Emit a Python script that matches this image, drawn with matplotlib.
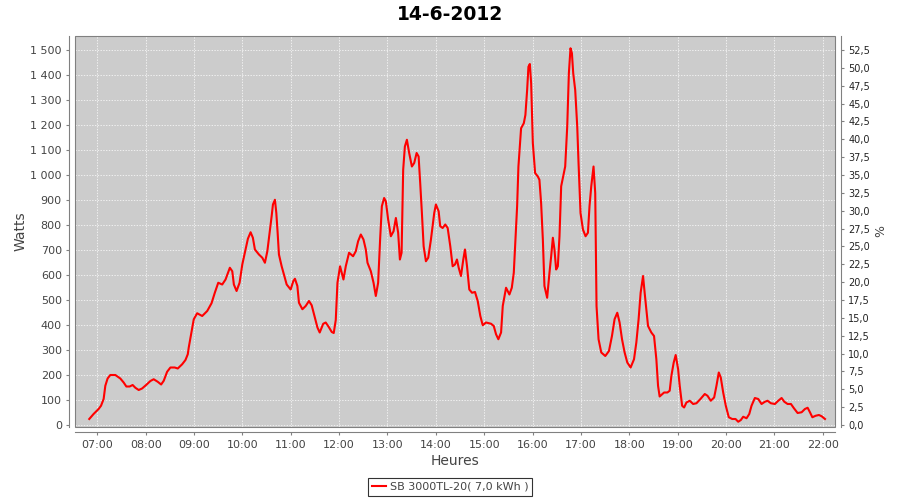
import matplotlib
matplotlib.use("Agg")
import matplotlib.pyplot as plt
from matplotlib.ticker import FixedLocator, FuncFormatter
from matplotlib.patches import Rectangle

# production du 14-6-2012 (heure decimale, watts)
heures = [
    6.834, 6.923, 7.027, 7.077, 7.131, 7.166, 7.213, 7.269, 7.373, 7.476,
    7.545, 7.601, 7.669, 7.731, 7.787, 7.856, 7.926, 8.015, 8.098, 8.166,
    8.249, 8.320, 8.374, 8.444, 8.512, 8.601, 8.664, 8.755, 8.823, 8.871,
    8.891, 8.947, 8.995, 9.065, 9.169, 9.273, 9.362, 9.430, 9.501, 9.583,
    9.652, 9.741, 9.791, 9.824, 9.880, 9.942, 9.998, 10.066, 10.114, 10.170,
    10.217, 10.259, 10.342, 10.412, 10.466, 10.516, 10.563, 10.605, 10.632, 10.673,
    10.702, 10.729, 10.756, 10.812, 10.860, 10.916, 10.998, 11.054, 11.087, 11.137,
    11.170, 11.241, 11.309, 11.377, 11.433, 11.481, 11.552, 11.599, 11.672, 11.723,
    11.786, 11.848, 11.889, 11.931, 11.966, 12.020, 12.090, 12.138, 12.206, 12.289,
    12.345, 12.393, 12.449, 12.504, 12.552, 12.587, 12.656, 12.712, 12.759, 12.807,
    12.848, 12.884, 12.931, 12.966, 13.014, 13.070, 13.126, 13.174, 13.221, 13.257,
    13.292, 13.325, 13.360, 13.402, 13.449, 13.505, 13.553, 13.603, 13.644, 13.677,
    13.712, 13.748, 13.795, 13.843, 13.899, 13.934, 13.967, 14.002, 14.058, 14.091,
    14.141, 14.195, 14.245, 14.299, 14.348, 14.396, 14.437, 14.473, 14.520, 14.568,
    14.603, 14.645, 14.692, 14.748, 14.810, 14.866, 14.920, 14.970, 15.038, 15.142,
    15.198, 15.245, 15.293, 15.349, 15.384, 15.452, 15.521, 15.571, 15.612, 15.639,
    15.681, 15.708, 15.763, 15.819, 15.852, 15.888, 15.915, 15.944, 15.971, 16.006,
    16.053, 16.109, 16.142, 16.177, 16.213, 16.246, 16.302, 16.350, 16.385, 16.420,
    16.453, 16.488, 16.523, 16.557, 16.592, 16.634, 16.675, 16.717, 16.751, 16.785,
    16.814, 16.841, 16.882, 16.924, 16.951, 16.992, 17.042, 17.096, 17.145, 17.178,
    17.214, 17.261, 17.296, 17.323, 17.365, 17.421, 17.504, 17.580, 17.642, 17.696,
    17.752, 17.800, 17.850, 17.904, 17.959, 18.028, 18.098, 18.146, 18.193, 18.235,
    18.285, 18.318, 18.353, 18.388, 18.456, 18.512, 18.560, 18.595, 18.628, 18.720,
    18.788, 18.836, 18.871, 18.919, 18.960, 19.010, 19.043, 19.093, 19.134, 19.182,
    19.250, 19.321, 19.389, 19.472, 19.561, 19.617, 19.685, 19.755, 19.803, 19.851,
    19.892, 19.942, 19.996, 20.058, 20.128, 20.197, 20.253, 20.307, 20.356, 20.425,
    20.481, 20.528, 20.597, 20.667, 20.735, 20.804, 20.860, 20.928, 21.011, 21.081,
    21.150, 21.206, 21.274, 21.343, 21.405, 21.481, 21.564, 21.632, 21.688, 21.736,
    21.786, 21.854, 21.922, 21.978, 22.047,
]
watts = [
    24, 44, 64, 77, 104, 157, 186, 200, 200, 186,
    170, 154, 154, 160, 149, 140, 146, 161, 176, 183,
    173, 162, 177, 213, 230, 230, 226, 243, 260, 283,
    310, 370, 423, 447, 436, 456, 487, 529, 569, 562,
    582, 629, 615, 562, 536, 569, 642, 702, 745, 771,
    749, 702, 682, 669, 649, 695, 769, 835, 882, 901,
    848, 769, 682, 635, 602, 562, 542, 576, 585, 556,
    489, 463, 476, 496, 479, 443, 390, 370, 405, 410,
    392, 372, 368, 420, 569, 635, 582, 635, 689, 675,
    695, 735, 762, 742, 702, 649, 615, 569, 516, 569,
    742, 875, 908, 895, 822, 755, 775, 828, 769, 662,
    689, 1021, 1114, 1141, 1088, 1034, 1048, 1088, 1074, 968,
    848, 715, 655, 669, 742, 795, 848, 882, 855, 795,
    788, 802, 788, 715, 635, 642, 662, 629, 596, 662,
    702, 635, 542, 529, 532, 496, 436, 399, 410, 405,
    396, 363, 343, 370, 476, 549, 522, 549, 609, 715,
    875, 1034, 1187, 1207, 1240, 1340, 1433, 1444, 1367, 1128,
    1008, 994, 981, 888, 742, 556, 509, 609, 675, 749,
    702, 622, 635, 755, 955, 994, 1034, 1194, 1407, 1507,
    1487, 1407, 1340, 1194, 1048, 848, 782, 755, 769, 875,
    955, 1034, 928, 476, 343, 290, 276, 296, 356, 423,
    449, 410, 343, 290, 250, 230, 263, 330, 423, 529,
    596, 529, 463, 396, 370, 356, 263, 157, 114, 130,
    130, 137, 197, 250, 280, 223, 157, 77, 70, 90,
    97, 84, 87, 104, 124, 117, 97, 110, 157, 210,
    190, 130, 77, 31, 24, 24, 13, 20, 33, 27,
    44, 77, 108, 104, 84, 93, 97, 87, 84, 97,
    108, 93, 84, 84, 67, 48, 51, 64, 69, 51,
    31, 37, 40, 35, 24,
]

hour_ticks = list(range(7, 23))
watt_ticks = list(range(0, 1501, 100))
pct_ticks = [i * 2.5 for i in range(22)]
pct_per_watt = 52.5 / 1500

titre = "14-6-2012"
legende = "SB 3000TL-20( 7,0 kWh )"

grey = "#808080"
txt = "#444444"

fig = plt.figure(figsize=(9, 5), dpi=100)
ax = fig.add_axes([75 / 900, 1 - 426.5 / 500, 760 / 900, 390.5 / 500])
ax.set_facecolor("#cccccc")

ax.plot(heures, watts, color="red", lw=1.5, label=legende, solid_joinstyle="round")

ax.set_xlim(6.539, 22.254)
ax.set_ylim(-6, 1556)

ax.xaxis.set_major_locator(FixedLocator(hour_ticks))
ax.xaxis.set_major_formatter(FuncFormatter(lambda v, p: "%02d:00" % int(round(v))))
ax.yaxis.set_major_locator(FixedLocator(watt_ticks))
ax.yaxis.set_major_formatter(FuncFormatter(lambda v, p: "{:,}".format(int(v)).replace(",", " ")))

ax.grid(True, color="white", lw=0.5, ls=(0, (2, 2)))
ax.set_axisbelow(True)

for s in ["top", "right"]:
    ax.spines[s].set_visible(False)
for s in ["left", "bottom"]:
    ax.spines[s].set_position(("outward", 4))
    ax.spines[s].set_color(grey)
ax.add_patch(Rectangle((0, 0), 1, 1, transform=ax.transAxes, fill=False,
                       ec=grey, lw=0.8, clip_on=False, zorder=5))

ax.tick_params(axis="both", colors=grey, labelcolor=txt, labelsize=8, length=2, width=0.8)
ax.set_xlabel("Heures", fontsize=10, color=txt, labelpad=3)
ax.set_ylabel("Watts", fontsize=10, color=txt, labelpad=2)

ax2 = ax.twinx()
ax2.set_ylim(-6 * pct_per_watt, 1556 * pct_per_watt)
ax2.yaxis.set_major_locator(FixedLocator(pct_ticks))
ax2.yaxis.set_major_formatter(FuncFormatter(lambda v, p: ("%.1f" % v).replace(".", ",")))
for s in ["top", "left", "bottom"]:
    ax2.spines[s].set_visible(False)
ax2.spines["right"].set_position(("outward", 4))
ax2.spines["right"].set_color(grey)
ax2.tick_params(axis="y", colors=grey, labelcolor="#222222", labelsize=7, length=2, width=0.8)
ax2.set_ylabel("%", fontsize=9, color=txt, labelpad=3)

fig.suptitle(titre, fontsize=13.5, fontweight="bold", y=0.99)

leg = fig.legend(loc="lower center", bbox_to_anchor=(0.5, 0.004), fontsize=8,
                 frameon=True, fancybox=False, handlelength=1.3, handletextpad=0.3,
                 borderpad=0.35, borderaxespad=0.2)
leg.get_frame().set_edgecolor("black")
leg.get_frame().set_linewidth(0.8)
for t in leg.get_texts():
    t.set_color(txt)

fig.savefig("out.png", dpi=100)
